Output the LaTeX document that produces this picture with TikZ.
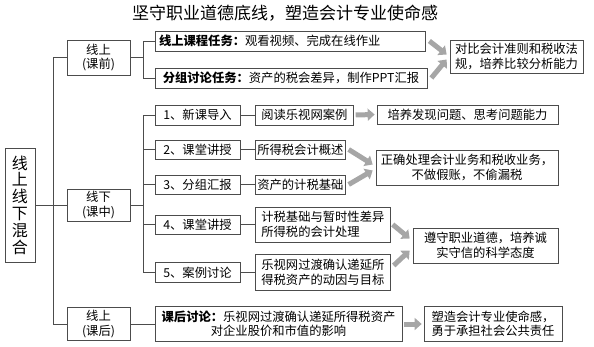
\documentclass[tikz,border=0pt]{standalone}
\usepackage{fontspec}
\setmainfont{Noto Sans CJK SC}
\usetikzlibrary{arrows.meta, calc}

\begin{document}
\begin{tikzpicture}[
    font=\fontsize{12.3pt}{14.5pt}\selectfont,
    box/.style={
        draw=black!70, line width=0.7pt, fill=white,
        inner sep=1pt, align=center,
    },
    link/.style={draw=black!70, line width=0.7pt},
    bigarrow/.style={-{Triangle[length=7pt, width=12pt]}, line width=5pt, draw=black!35},
]
\useasboundingbox (0,0) rectangle (594pt,-347pt);

\def\colM{20}
\def\colL{98.5}
\def\colS{197.5}
\def\colC{255}

\node[font=\fontsize{17pt}{20pt}\selectfont] (title) at (285pt,-13pt) {坚守职业道德底线，塑造会计专业使命感};

\node[box, minimum width=30pt, minimum height=114pt, font=\fontsize{16pt}{16.8pt}\selectfont] (mix) at (\colM pt,-205pt) {线\\上\\线\\下\\混\\合};

% stages
\node[box, minimum width=63pt, minimum height=35pt] (pre) at (\colL pt,-57.5pt) {线上\\(课前)};
\node[box, minimum width=63pt, minimum height=32pt] (mid) at (\colL pt,-205pt) {线下\\(课中)};
\node[box, minimum width=63pt, minimum height=33pt] (post) at (\colL pt,-324pt) {线上\\(课后)};

% before class
\node[box, minimum width=270pt, minimum height=20pt, text width=262pt, align=left] (task1) at (290pt,-41pt) {\textbf{线上课程任务：}观看视频、完成在线作业};
\node[box, minimum width=272pt, minimum height=20pt] (task2) at (291pt,-78pt) {\textbf{分组讨论任务：}资产的税会差异，制作PPT汇报};

% in class
\node[box, minimum width=85pt, minimum height=20pt] (step1) at (\colS pt,-115pt) {1、新课导入};
\node[box, minimum width=85pt, minimum height=19pt] (step2) at (\colS pt,-149.5pt) {2、课堂讲授};
\node[box, minimum width=85pt, minimum height=19pt] (step3) at (\colS pt,-184.5pt) {3、分组汇报};
\node[box, minimum width=85pt, minimum height=19pt] (step4) at (\colS pt,-224.5pt) {4、课堂讲授};
\node[box, minimum width=85pt, minimum height=20pt] (step5) at (\colS pt,-272.5pt) {5、案例讨论};

\node[box, anchor=west, minimum width=98pt, minimum height=20pt] (read) at (\colC pt,-115pt) {阅读乐视网案例};
\node[box, anchor=west, minimum width=90pt, minimum height=19pt] (intro) at (\colC pt,-149.5pt) {所得税会计概述};
\node[box, anchor=west, minimum width=90pt, minimum height=19pt] (base) at (\colC pt,-184.5pt) {资产的计税基础};
\node[box, anchor=west, minimum width=135pt, minimum height=35pt, align=left] (diff) at (\colC pt,-224.5pt) {计税基础与暂时性差异\\所得税的会计处理};
\node[box, anchor=west, minimum width=135pt, minimum height=36pt, align=left] (case) at (\colC pt,-272.5pt) {乐视网过渡确认递延所\\得税资产的动因与目标};

% after class
\node[box, minimum width=247pt, minimum height=35pt] (talk) at (278.5pt,-324pt) {\textbf{课后讨论：}乐视网过渡确认递延所得税资产\\对企业股价和市值的影响};

% goals
\node[box, minimum width=133pt, minimum height=33pt] (goal1) at (516.5pt,-56.5pt) {对比会计准则和税收法\\规，培养比较分析能力};
\node[box, minimum width=181pt, minimum height=19pt] (goal2) at (467.5pt,-114.5pt) {培养发现问题、思考问题能力};
\node[box, minimum width=182pt, minimum height=35pt] (goal3) at (467pt,-167.5pt) {正确处理会计业务和税收业务，\\不做假账，不偷漏税};
\node[box, minimum width=145pt, minimum height=35pt] (goal4) at (485.5pt,-245.5pt) {遵守职业道德，培养诚\\实守信的科学态度};
\node[box, minimum width=138pt, minimum height=35pt] (goal5) at (493pt,-324pt) {塑造会计专业使命感，\\勇于承担社会公共责任};

% tree lines
\draw[link] (mix.east) -- ++(18pt,0) coordinate (j0);
\foreach \n in {pre, mid, post}
    \draw[link] (j0) |- (\n.west);
\draw[link] (pre.east) -- ++(13pt,0) coordinate (j1);
\foreach \n in {task1, task2}
    \draw[link] (j1) |- (\n.west);
\draw[link] (mid.east) -- ++(13pt,0) coordinate (j2);
\foreach \n in {step1, step2, step3, step4, step5}
    \draw[link] (j2) |- (\n.west);
\draw[link] (post.east) -- (talk.west);
\foreach \a/\b in {step1/read, step2/intro, step3/base, step4/diff, step5/case}
    \draw[link] (\a.east) -- (\b.west);

% arrows to goals
\draw[bigarrow] ([xshift=4pt]task1.east) -- ([xshift=-3pt,yshift=2pt]goal1.west);
\draw[bigarrow] ([xshift=4pt]task2.east) -- ([xshift=-3pt,yshift=-3pt]goal1.west);
\draw[bigarrow] ([xshift=2pt]read.east) -- ([xshift=-2pt]goal2.west);
\draw[bigarrow] ([xshift=3pt]intro.east) -- ([xshift=-3pt,yshift=3pt]goal3.west);
\draw[bigarrow] ([xshift=3pt]base.east) -- ([xshift=-3pt,yshift=-3pt]goal3.west);
\draw[bigarrow] ([xshift=2pt]diff.east) -- ([xshift=-3pt,yshift=7pt]goal4.west);
\draw[bigarrow] ([xshift=3pt,yshift=7pt]case.east) -- ([xshift=-3pt,yshift=-5pt]goal4.west);
\draw[bigarrow] ([xshift=2pt]talk.east) -- ([xshift=-2pt]goal5.west);

\end{tikzpicture}
\end{document}
